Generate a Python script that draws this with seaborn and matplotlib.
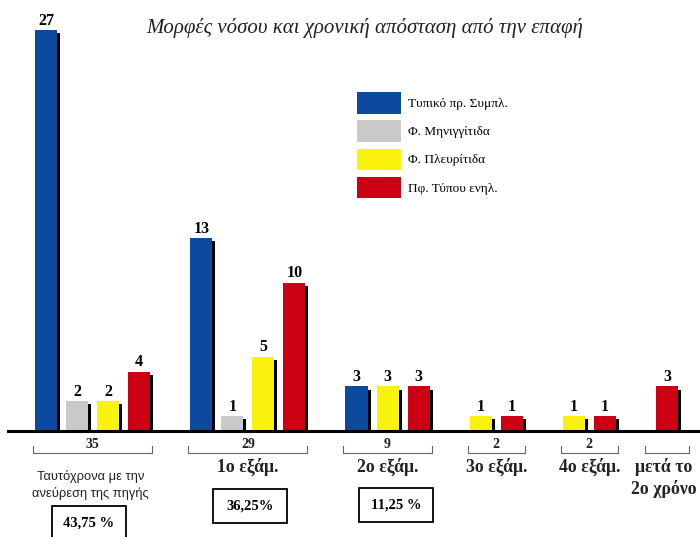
import matplotlib
matplotlib.use("Agg")
import matplotlib.pyplot as plt
import matplotlib.transforms as mtransforms
import matplotlib.patheffects as pe
from matplotlib.patches import Patch, Rectangle
from matplotlib.lines import Line2D
import seaborn as sns
import pandas as pd

# ---- data -------------------------------------------------------------
categories = ["Ταυτόχρονα με την\nανεύρεση της πηγής", "1ο εξάμ.", "2ο εξάμ.",
              "3ο εξάμ.", "4ο εξάμ.", "μετά το\n2ο χρόνο"]
series = ["Τυπικό πρ. Συμπλ.", "Φ. Μηνιγγίτιδα", "Φ. Πλευρίτιδα", "Πφ. Τύπου ενηλ."]
typical = [27, 13, 3, 0, 0, 0]
meningitis = [2, 1, 0, 0, 0, 0]
pleurisy = [2, 5, 3, 1, 1, 0]
adult_type = [4, 10, 3, 1, 1, 3]
totals = ["35", "29", "9", "2", "2", ""]
percents = ["43,75 %", "36,25%", "11,25 %", "", "", ""]
title = "Μορφές νόσου και χρονική απόσταση από την επαφή"

colors = ["#0c4a9f", "#c9c9c9", "#f9f20c", "#cc0012"]

# ---- long table: one slot per non-zero bar, one empty slot between groups
values = [typical, meningitis, pleurisy, adult_type]
rows = []
group_span = []
slot = 0
for g, cat in enumerate(categories):
    first = slot
    for s, name in enumerate(series):
        v = values[s][g]
        if v > 0:
            rows.append({"pos": slot, "value": v, "series": name, "group": cat})
            slot += 1
    group_span.append((first, slot - 1))
    slot += 1
df = pd.DataFrame(rows)

# ---- figure ------------------------------------------------------------
W, H = 700, 537
fig = plt.figure(figsize=(W / 100, H / 100), dpi=100)
fig.patch.set_facecolor("white")
base_px = 431
ax = fig.add_axes([0, (H - base_px) / H, 1, base_px / H])

sns.barplot(data=df, x="pos", y="value", hue="series", hue_order=series,
            palette=colors, native_scale=True, dodge=False, width=0.71,
            saturation=1, legend=False, ax=ax)

pitch = 31.05
x0_px = 46
ax.set_xlim(-x0_px / pitch, 20 + (W - 667) / pitch)
ax.set_ylim(0, base_px / 14.85)
ax.axis("off")

shadow = [pe.SimplePatchShadow(offset=(2.2, -2.2), shadow_rgbFace="black", alpha=1.0),
          pe.Normal()]
for bar in ax.patches:
    bar.set_path_effects(shadow)
    bar.set_edgecolor("none")

serif = "Liberation Serif"
for _, r in df.iterrows():
    ax.annotate(str(r["value"]), (r["pos"], r["value"]), xytext=(0, 1.0),
                textcoords="offset points", ha="center", va="bottom",
                fontsize=11.5, fontweight="bold", family=serif)

# baseline
fig.add_artist(Line2D([8 / W, 698 / W], [(H - base_px) / H] * 2,
                      color="black", lw=2.2, transform=fig.transFigure))

# transform: x in data units, y in pixels from the top of the figure
ypx = mtransforms.Affine2D().scale(1, -1).translate(0, H) + mtransforms.IdentityTransform()
tr = mtransforms.blended_transform_factory(ax.transData, ypx)

for g, (a, b) in enumerate(group_span):
    c = (a + b) / 2
    half = max((b - a) / 2 + 0.42, 0.7)
    xl, xr = c - half, c + half
    ax.plot([xl, xl, xr, xr], [446, 453, 453, 446], color="#666666", lw=0.8,
            transform=tr, clip_on=False)
    if totals[g]:
        ax.text(c, 448.5, totals[g], transform=tr, ha="center", va="baseline",
                fontsize=10, fontweight="bold", family=serif, color="#222222")
    if g == 0:
        ax.text(c - 0.07, 485, categories[g], transform=tr, ha="center",
                va="center", fontsize=9.3, family="Liberation Sans",
                linespacing=1.45, color="#222222")
    else:
        dx = -0.1 if g == len(categories) - 1 else 0
        ax.text(c + dx, 458, categories[g], transform=tr, ha="center", va="top",
                fontsize=12.8, fontweight="bold", family=serif,
                linespacing=1.25, color="#222222")

# percentage boxes
box_shift = [-0.12, 0.08, 0.28]
box_top = [506, 489, 488]
for g, txt in enumerate(percents):
    if not txt:
        continue
    a, b = group_span[g]
    c = (a + b) / 2 + box_shift[g]
    bw = 74 / pitch
    ax.add_patch(Rectangle((c - bw / 2, box_top[g] + 34), bw, -34,
                           transform=tr, fill=False, edgecolor="black",
                           lw=1.3, clip_on=False))
    ax.text(c, box_top[g] + 17, txt, transform=tr, ha="center", va="center",
            fontsize=10.5, fontweight="bold", family=serif)

# title
fig.text(365 / W, 1 - 28 / H, title, ha="center", va="center",
         fontsize=15, style="italic", family=serif, color="#222222")

# legend
handles = [Patch(facecolor=c, edgecolor="none") for c in colors]
fs = 9.5
ax.legend(handles, series, loc="upper left", frameon=False,
          bbox_to_anchor=((357 - 5.3) / W, 1 - (92 - 5.3) / H),
          bbox_transform=fig.transFigure, borderaxespad=0,
          handlelength=3.3, handleheight=2.15, handletextpad=0.6,
          labelspacing=0.5, prop={"family": serif, "size": fs})

fig.savefig("out.png", dpi=100)
